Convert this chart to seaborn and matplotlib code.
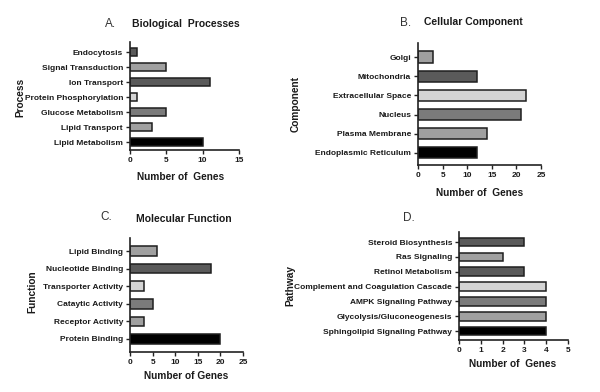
import matplotlib
matplotlib.use("Agg")
import matplotlib.pyplot as plt
import seaborn as sns

# data
bio_terms = ["Endocytosis", "Signal Transduction", "Ion Transport", "Protein Phosphorylation",
             "Glucose Metabolism", "Lipid Transport", "Lipid Metabolism"]
bio_genes = [1, 5, 11, 1, 5, 3, 10]

cell_terms = ["Golgi", "Mitochondria", "Extracellular Space", "Nucleus",
              "Plasma Membrane", "Endoplasmic Reticulum"]
cell_genes = [3, 12, 22, 21, 14, 12]

mol_terms = ["Lipid Binding", "Nucleotide Binding", "Transporter Activity",
             "Cataytic Activity", "Receptor Activity", "Protein Binding"]
mol_genes = [6, 18, 3, 5, 3, 20]

path_terms = ["Steroid Biosynthesis", "Ras Signaling", "Retinol Metabolism",
              "Complement and Coagulation Cascade", "AMPK Signaling Pathway",
              "Glycolysis/Gluconeogenesis", "Sphingolipid Signaling Pathway"]
path_genes = [3, 2, 3, 4, 4, 4, 4]

# grey cycle, counted from the bottom bar upwards
greys = ["#000000", "#a0a0a0", "#7b7b7b", "#d4d4d4", "#5a5a5a", "#a0a0a0", "#5a5a5a"]

sns.set_style("ticks")
plt.rcParams["font.family"] = ["Liberation Sans", "DejaVu Sans"]
plt.rcParams["font.weight"] = "bold"

W, H = 600, 392
fig = plt.figure(figsize=(6, 3.92), dpi=100)


def panel(box, terms, genes, xmax, step, ylim, letter, title, ylabel, xlabel,
          xlab_pos, ylab_pos, width):
    left, top, right, bottom = box
    ax = fig.add_axes([left / W, 1 - bottom / H, (right - left) / W, (bottom - top) / H])
    n = len(terms)
    pal = greys[:n][::-1]
    sns.barplot(x=genes, y=terms, hue=terms, palette=pal, legend=False, orient="h",
                edgecolor="#1e1e1e", linewidth=1.1, width=width, ax=ax)
    ax.set_xlim(0, xmax)
    ax.set_xticks(range(0, xmax + 1, step))
    ax.set_ylim(ylim[1], ylim[0])
    sns.despine(ax=ax)
    for s in ["left", "bottom"]:
        ax.spines[s].set_linewidth(1.2)
        ax.spines[s].set_color("#222222")
    ax.tick_params(axis="both", length=3, width=1, color="#222222", labelsize=6, pad=2)
    for t in ax.get_xticklabels() + ax.get_yticklabels():
        t.set_fontweight("bold")
        t.set_color("#1a1a1a")
    ax.set_xlabel(xlabel, fontsize=7.3, fontweight="bold", color="#1a1a1a", va="center")
    ax.xaxis.set_label_coords((xlab_pos[0] - left) / (right - left),
                              (bottom - xlab_pos[1]) / (bottom - top))
    ax.set_ylabel(ylabel, fontsize=7.3, fontweight="bold", color="#1a1a1a", va="center")
    ax.yaxis.set_label_coords((ylab_pos[0] - left) / (right - left),
                              (bottom - ylab_pos[1]) / (bottom - top))
    # panel heading
    fig.text(letter[1] / W, 1 - letter[2] / H, letter[0], fontsize=8.5, fontweight="normal",
             color="#333333", ha="left", va="center")
    if title:
        fig.text(title[1] / W, 1 - title[2] / H, title[0], fontsize=7.5, fontweight="bold",
                 color="#1a1a1a", ha="left", va="center")
    return ax


panel((130, 42, 239, 150), bio_terms, bio_genes, 15, 5, (-0.67, 6.53),
      ("A.", 105, 24), ("Biological  Processes", 132, 24), "Process", "Number of  Genes",
      (181, 177), (20, 97), 0.55)

panel((418, 43, 541, 165), cell_terms, cell_genes, 25, 5, (-0.73, 5.63),
      ("B.", 400, 23), ("Cellular Component", 424, 22), "Component", "Number of  Genes",
      (480, 193), (296, 104), 0.58)

panel((130, 238, 243, 352), mol_terms, mol_genes, 25, 5, (-0.74, 5.74),
      ("C.", 100, 217), ("Molecular Function", 136, 219), "Function", "Number of Genes",
      (186, 376), (32, 292), 0.55)

panel((459, 232, 568, 340), path_terms, path_genes, 5, 1, (-0.68, 6.6),
      ("D.", 403, 218), None, "Pathway", "Number of  Genes",
      (513, 364), (290, 285), 0.58)

fig.savefig("out.png", dpi=100)
